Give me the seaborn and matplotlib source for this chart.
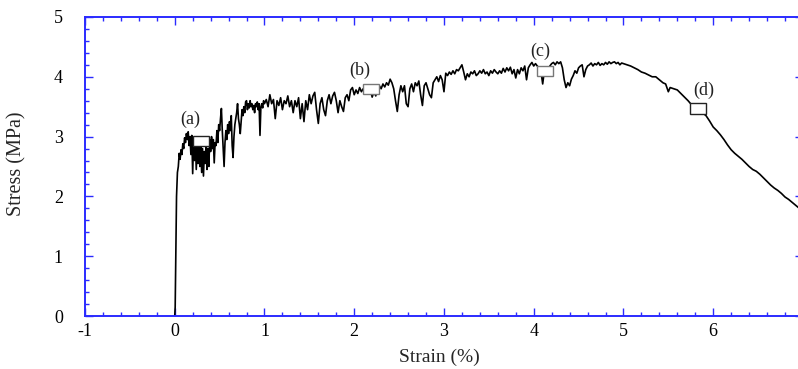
# -*- coding: utf-8 -*-

### Stress-strain curve with marked points (a)-(d) ###

import pandas as pd
import matplotlib
matplotlib.use("Agg")
import matplotlib.pyplot as plt
from matplotlib.patches import Rectangle
from matplotlib.ticker import MultipleLocator
import seaborn as sns

sns.set_style("ticks")
plt.rcParams['font.family'] = ['Liberation Serif', 'DejaVu Serif']
plt.rcParams['axes.unicode_minus'] = False

## Data ##

strain = [0.0, 0.005, 0.01, 0.015, 0.02, 0.025, 0.03, 0.04, 0.05, 0.06, 0.07, 0.08, 0.09, 0.1,
          0.11, 0.12, 0.13, 0.14, 0.15, 0.16, 0.17, 0.18, 0.19, 0.2, 0.21, 0.22, 0.23, 0.24,
          0.25, 0.26, 0.27, 0.28, 0.29, 0.3, 0.31, 0.32, 0.33, 0.34, 0.35, 0.36, 0.37, 0.38,
          0.39, 0.4, 0.41, 0.42, 0.43, 0.44, 0.45, 0.46, 0.47, 0.48, 0.49, 0.5,
          0.51, 0.52, 0.53, 0.54, 0.55, 0.56, 0.57, 0.58, 0.59, 0.6, 0.61, 0.62, 0.63, 0.64,
          0.65, 0.66, 0.67, 0.68, 0.69, 0.7, 0.71, 0.72, 0.73, 0.74, 0.75, 0.76, 0.77, 0.78,
          0.79, 0.8, 0.81, 0.82, 0.83, 0.84, 0.85, 0.86, 0.87, 0.88, 0.89, 0.9, 0.91, 0.92,
          0.93, 0.94, 0.95, 0.96, 0.97, 0.98, 0.99, 1.0,
          1.02, 1.04, 1.06, 1.08, 1.1, 1.12, 1.14, 1.16, 1.18, 1.2, 1.22, 1.24, 1.26, 1.28,
          1.3, 1.32, 1.34, 1.36, 1.38, 1.4, 1.42, 1.44, 1.46, 1.48, 1.5, 1.52, 1.54, 1.56,
          1.58, 1.6, 1.62, 1.64, 1.66, 1.68, 1.7, 1.72, 1.74, 1.76, 1.78, 1.8, 1.82, 1.84,
          1.86, 1.88, 1.9, 1.92, 1.94, 1.96, 1.98, 2.0,
          2.02, 2.04, 2.06, 2.08, 2.1, 2.12, 2.14, 2.16, 2.18, 2.2, 2.22, 2.24, 2.26, 2.28,
          2.3, 2.32, 2.34, 2.36, 2.38, 2.4, 2.42, 2.44, 2.46, 2.48, 2.5, 2.52, 2.54, 2.56,
          2.58, 2.6, 2.62, 2.64, 2.66, 2.68, 2.7, 2.72, 2.74, 2.76, 2.78, 2.8, 2.82, 2.84,
          2.86, 2.88, 2.9, 2.92, 2.94, 2.96, 2.98, 3.0,
          3.02, 3.04, 3.06, 3.08, 3.1, 3.12, 3.14, 3.16, 3.18, 3.2, 3.22, 3.24, 3.26, 3.28,
          3.3, 3.32, 3.34, 3.36, 3.38, 3.4, 3.42, 3.44, 3.46, 3.48, 3.5, 3.52, 3.54, 3.56,
          3.58, 3.6, 3.62, 3.64, 3.66, 3.68, 3.7, 3.72, 3.74, 3.76, 3.78, 3.8, 3.82, 3.84,
          3.86, 3.88, 3.9, 3.92, 3.94, 3.96, 3.98, 4.0,
          4.02, 4.04, 4.06, 4.08, 4.1, 4.12, 4.14, 4.16, 4.18, 4.2, 4.22, 4.24, 4.26, 4.28,
          4.3, 4.32, 4.34, 4.36, 4.38, 4.4, 4.42, 4.44, 4.46, 4.48, 4.5, 4.52, 4.54, 4.56,
          4.58, 4.6, 4.62, 4.64, 4.66, 4.68, 4.7, 4.72, 4.74, 4.76, 4.78, 4.8, 4.82, 4.84,
          4.86, 4.88, 4.9, 4.92, 4.94, 4.96, 4.98, 5.0,
          5.04, 5.08, 5.12, 5.16, 5.2, 5.24, 5.28, 5.32, 5.36, 5.4, 5.44, 5.47, 5.5, 5.52,
          5.56, 5.6, 5.64, 5.68, 5.72, 5.76, 5.8, 5.84, 5.88, 5.92, 5.96, 6.0, 6.04, 6.08,
          6.12, 6.16, 6.2, 6.24, 6.28, 6.32, 6.36, 6.4, 6.44, 6.48, 6.52, 6.56, 6.6, 6.64,
          6.68, 6.72, 6.76, 6.8, 6.84, 6.88, 6.92, 6.96, 7.0]

stress = [0.0, 0.15, 0.8, 1.5, 2.0, 2.2, 2.4, 2.5, 2.72, 2.62, 2.78, 2.7, 2.88, 2.8,
          2.98, 2.9, 3.05, 2.95, 3.08, 2.85, 3.0, 2.7, 3.02, 2.38, 2.95, 2.6, 2.9, 2.45,
          2.85, 2.55, 2.92, 2.5, 2.85, 2.4, 2.8, 2.34, 2.75, 2.55, 2.9, 2.45, 2.8, 2.5,
          2.95, 2.75, 3.0, 2.8, 2.95, 2.56, 2.9, 2.85, 3.1, 2.9, 3.2, 3.1,
          3.3, 3.47, 3.1, 2.8, 2.5, 2.9, 3.1, 2.95, 3.2, 3.05, 3.25, 3.1, 3.35, 2.85,
          2.65, 3.0, 3.2, 3.3, 3.4, 3.55, 3.3, 3.2, 3.05, 3.25, 3.45, 3.35, 3.5, 3.4,
          3.58, 3.6, 3.45, 3.55, 3.48, 3.6, 3.5, 3.55, 3.45, 3.52, 3.4, 3.55, 3.5, 3.58,
          3.45, 3.55, 3.02, 3.5, 3.55, 3.48, 3.6, 3.55,
          3.62, 3.5, 3.7, 3.55, 3.62, 3.3, 3.6, 3.52, 3.65, 3.45, 3.6, 3.55, 3.68, 3.5,
          3.6, 3.4, 3.6, 3.5, 3.65, 3.3, 3.55, 3.25, 3.6, 3.45, 3.7, 3.55, 3.68, 3.74,
          3.45, 3.22, 3.55, 3.65, 3.45, 3.35, 3.6, 3.7, 3.55, 3.68, 3.74, 3.6, 3.4, 3.6,
          3.5, 3.42, 3.65, 3.7, 3.6, 3.78, 3.82, 3.7,
          3.78, 3.72, 3.82, 3.75, 3.8, 3.76, 3.82, 3.72, 3.78, 3.66, 3.75, 3.68, 3.8, 3.85,
          3.8, 3.88, 3.83, 3.9, 3.86, 3.96, 3.9, 3.8, 3.6, 3.42, 3.7, 3.85, 3.75, 3.85,
          3.55, 3.5, 3.8, 3.88, 3.75, 3.9, 3.85, 3.93, 3.7, 3.52, 3.85, 3.9, 3.8, 3.7,
          3.65, 3.9, 3.95, 4.0, 3.92, 4.02, 3.95, 3.75,
          4.06, 4.02, 4.08, 4.04, 4.1, 4.05, 4.12, 4.1, 4.15, 4.2, 4.08, 3.95, 4.05, 4.0,
          4.08, 4.05, 4.1, 4.02, 4.05, 4.1, 4.06, 4.12, 4.05, 4.08, 4.02, 4.1, 4.06, 4.12,
          4.08, 4.05, 4.1, 4.06, 4.14, 4.08, 4.15, 4.1, 4.16, 4.05, 4.12, 3.98, 4.12, 4.05,
          4.15, 4.1, 4.18, 3.95, 4.15, 4.2, 4.24, 4.18,
          4.22, 4.18, 4.15, 4.1, 3.88, 4.12, 4.15, 4.12, 4.18, 4.22, 4.24, 4.2, 4.25, 4.22,
          4.25, 4.15, 3.95, 3.82, 3.9, 3.85, 3.96, 4.02, 4.1, 4.06, 4.15, 4.18, 4.2, 4.0,
          4.12, 4.18, 4.2, 4.23, 4.18, 4.22, 4.2, 4.24, 4.19, 4.22, 4.2, 4.24, 4.21, 4.25,
          4.22, 4.24, 4.25, 4.22, 4.24, 4.2, 4.23, 4.22,
          4.2, 4.18, 4.15, 4.12, 4.08, 4.06, 4.03, 4.0, 4.0, 3.95, 3.9, 3.88, 3.75, 3.82,
          3.8, 3.78, 3.72, 3.66, 3.6, 3.53, 3.48, 3.44, 3.4, 3.35, 3.26, 3.16, 3.1, 3.03,
          2.95, 2.86, 2.78, 2.72, 2.67, 2.62, 2.56, 2.5, 2.45, 2.42, 2.37, 2.31, 2.25, 2.19,
          2.14, 2.1, 2.05, 1.99, 1.95, 1.9, 1.85, 1.8, 1.76]

marker_labels = ['(a)', '(b)', '(c)', '(d)']
marker_x = [0.29, 2.19, 4.13, 5.83]
marker_y = [2.92, 3.80, 4.10, 3.47]
label_x = [0.17, 2.06, 4.07, 5.89]
label_y = [3.28, 4.10, 4.43, 3.78]

df = pd.DataFrame({'Strain': strain, 'Stress': stress})

## Plot ##

blue = '#2b2bff'
fig = plt.figure(figsize=(7.98, 3.69), dpi=100)
ax = fig.add_axes([0.1065, 0.1436, 0.8997, 0.8104])

sns.lineplot(data=df, x='Strain', y='Stress', ax=ax, color='black',
             linewidth=1.2, estimator=None, sort=False)

# boxes marking (a)-(d)
box_w, box_h = 0.18, 0.17
edge_cols = ['#222222', '#777777', '#777777', '#222222']
for lab, bx, by, tx, ty, ec in zip(marker_labels, marker_x, marker_y, label_x, label_y, edge_cols):
    ax.add_patch(Rectangle((bx - box_w / 2, by - box_h / 2), box_w, box_h,
                           facecolor='white', edgecolor=ec, linewidth=1.0, zorder=5))
    ax.text(tx, ty, lab, fontsize=13, ha='center', va='center', color='#222222')

ax.set_xlim(-1, 7)
ax.set_ylim(0, 5)
ax.xaxis.set_major_locator(MultipleLocator(1))
ax.xaxis.set_minor_locator(MultipleLocator(0.2))
ax.yaxis.set_major_locator(MultipleLocator(1))
ax.yaxis.set_minor_locator(MultipleLocator(0.2))

ax.tick_params(which='both', direction='in', top=True, right=True, color=blue,
               labelcolor='black', labelsize=13)
ax.tick_params(which='major', length=6, width=1.0)
ax.tick_params(which='minor', length=3, width=1.0)
ax.tick_params(axis='y', pad=16)
ax.tick_params(axis='x', pad=5)
for s in ax.spines.values():
    s.set_color(blue)
    s.set_linewidth(1.4)

ax.set_xlabel('Strain (%)', fontsize=14)
ax.set_ylabel('Stress (MPa)', fontsize=14.5)
ax.xaxis.set_label_coords(0.493, -0.11)
ax.yaxis.set_label_coords(-0.081, 0.51)

plt.savefig('out.png', dpi=100)
